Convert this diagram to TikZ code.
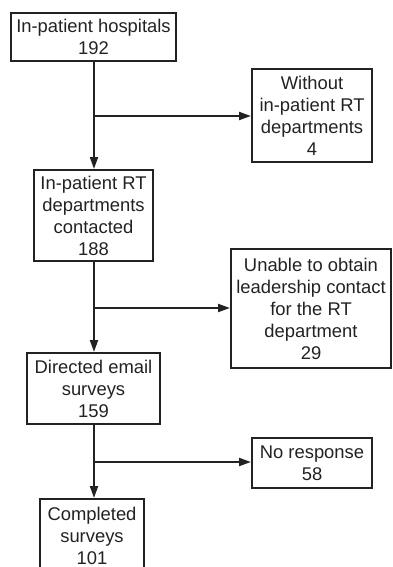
\documentclass[tikz,border=0pt]{standalone}
\usepackage{fontspec}
\setmainfont{Liberation Sans}
\usetikzlibrary{arrows.meta}
\definecolor{ink}{HTML}{222222}
\begin{document}
\begin{tikzpicture}[x=1pt,y=-1pt,
  box/.style={draw=ink,line width=2pt,inner sep=0pt,align=center,text=ink,
    font=\fontsize{18.4}{22}\selectfont},
  flow/.style={draw=ink,line width=2pt,-{Triangle[length=12pt,width=8pt]}},
  link/.style={draw=ink,line width=2pt}]
\useasboundingbox (0,0) rectangle (392,567);
\node[box,minimum width=165pt,minimum height=48pt] (b1) at (93.5,37) {In-patient hospitals\\192};
\node[box,minimum width=120pt,minimum height=93pt] (b2) at (312,115.5) {Without\\in-patient RT\\departments\\4};
\node[box,minimum width=119pt,minimum height=91pt] (b3) at (93.5,215.5) {In-patient RT\\departments\\contacted\\188};
\node[box,minimum width=160pt,minimum height=119pt] (b5) at (311,308.5) {Unable to obtain\\leadership contact\\for the RT\\department\\29};
\node[box,minimum width=133pt,minimum height=71pt] (b4) at (93.5,388.5) {Directed email\\surveys\\159};
\node[box,minimum width=120pt,minimum height=50pt] (b7) at (312,463) {No response\\58};
\node[box,minimum width=104pt,minimum height=74pt,anchor=north] (b6) at (92,498) {Completed\\surveys\\101};
\coordinate (j1) at (94,116);
\coordinate (j2) at (94,308);
\coordinate (j3) at (94,462);
\draw[flow] (b1.south -| j1) -- (b3.north -| j1);
\draw[flow] (j1) -- (j1 -| b2.west);
\draw[flow] (b3.south -| j2) -- (b4.north -| j2);
\draw[flow] (j2) -- (j2 -| b5.west);
\draw[flow] (b4.south -| j3) -- (b6.north -| j3);
\draw[flow] (j3) -- (j3 -| b7.west);
\end{tikzpicture}
\end{document}
